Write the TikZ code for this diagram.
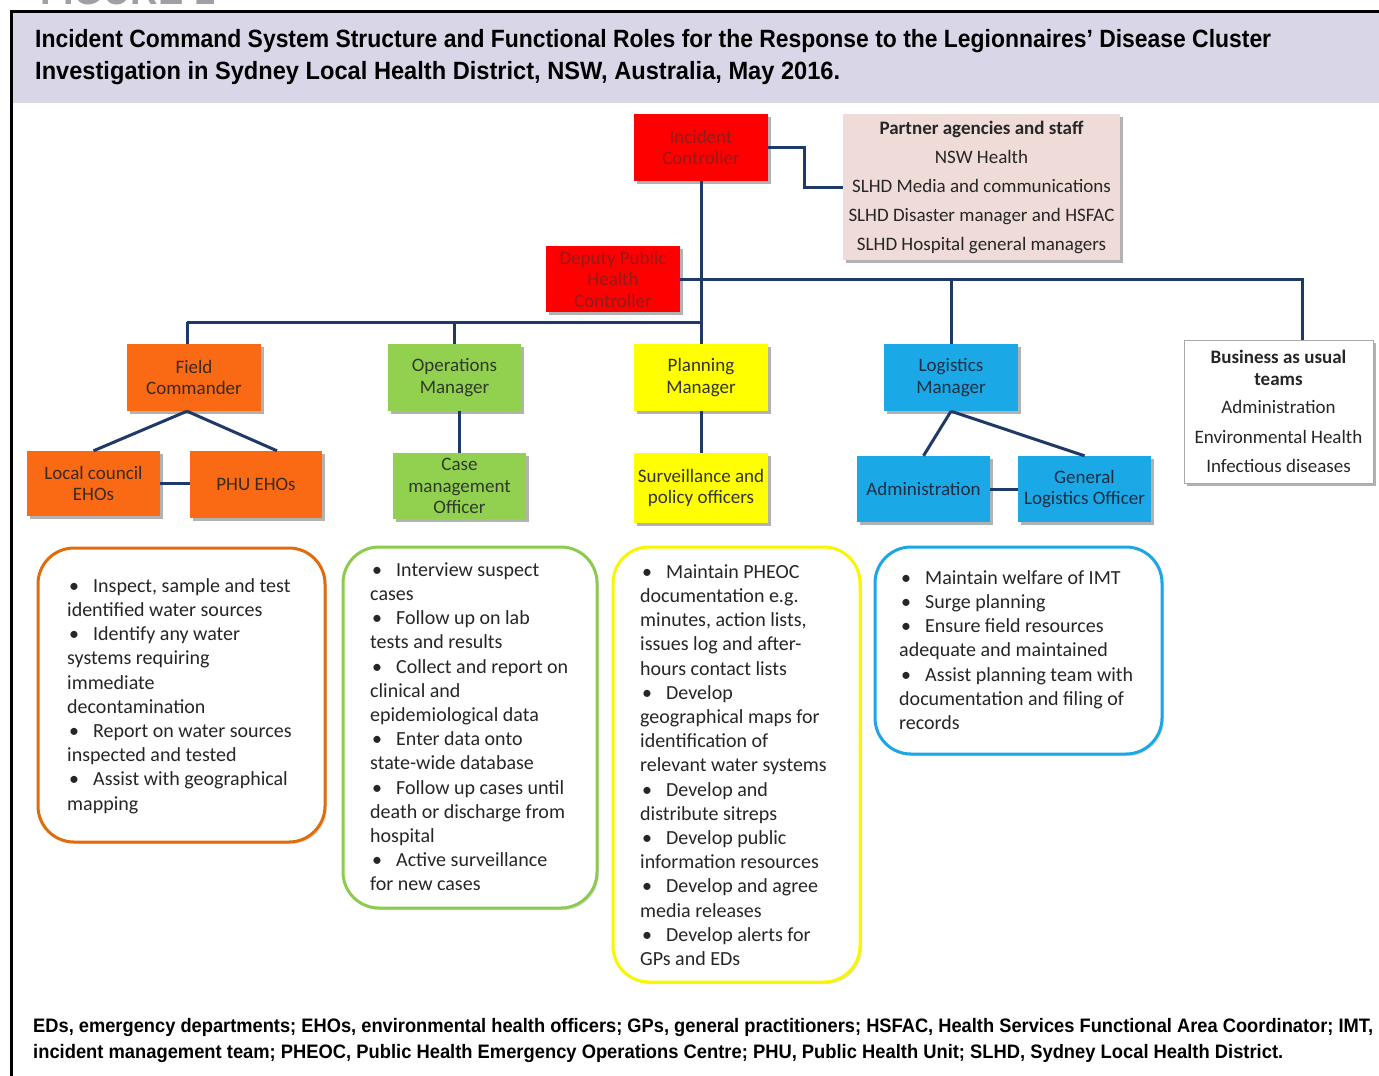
\documentclass[tikz,border=0pt]{standalone}
\usepackage{fontspec}
\usepackage{graphicx}
\setmainfont{Carlito}
\newfontfamily\headfont{Liberation Sans}
\usetikzlibrary{shadows,calc}
\definecolor{band}{HTML}{D9D7E7}
\definecolor{conn}{HTML}{1F3A68}
\definecolor{redf}{HTML}{FF0000}
\definecolor{redt}{HTML}{961A1A}
\definecolor{orf}{HTML}{FA6A14}
\definecolor{ort}{HTML}{3A2A20}
\definecolor{grf}{HTML}{92D050}
\definecolor{grt}{HTML}{2E3A2A}
\definecolor{yef}{HTML}{FFFF00}
\definecolor{yet}{HTML}{333333}
\definecolor{blf}{HTML}{1AA8E6}
\definecolor{blt}{HTML}{1E2E45}
\definecolor{pinkf}{HTML}{EFDBD7}
\definecolor{txtg}{HTML}{262626}
\definecolor{orb}{HTML}{E36C0A}
\definecolor{grb}{HTML}{8CCB4E}
\definecolor{yeb}{HTML}{F7F700}
\definecolor{blb}{HTML}{1CA6E3}
\definecolor{figg}{HTML}{A0A0A0}
\definecolor{baub}{HTML}{AAAAAA}
\newcommand{\bul}{\makebox[26pt][l]{\hspace*{2pt}•}}
\begin{document}
\begin{tikzpicture}[x=1pt,y=-1pt,
  orgbox/.style={draw=none, minimum width=134pt, minimum height=67pt, inner sep=1pt, align=center,
    font=\fontsize{19}{21.5}\selectfont,
    drop shadow={shadow xshift=2.5pt, shadow yshift=-2.5pt, opacity=0.3, fill=black}},
  rbox/.style={draw, line width=3pt, rounded corners=36pt, fill=white,
    drop shadow={shadow xshift=2pt, shadow yshift=-2pt, opacity=0.12, fill=black}},
  btxt/.style={anchor=north west, align=left, inner sep=0pt, font=\fontsize{20}{24.2}\selectfont, text=txtg},
  link/.style={draw=conn, line width=3pt}]
\useasboundingbox (0,0) rectangle (1379,1076);
\fill[white] (0,0) rectangle (1379,1076);
% header band and frame
\fill[band] (13,13) rectangle (1379,103);
\draw[line width=3pt] (11.5,1090) -- (11.5,11.5) -- (1390,11.5);
\begin{scope}
\clip (0,0) rectangle (1379,10);
\node[anchor=base west, inner sep=0pt, text=figg] (fig) at (40,5) {\resizebox{175pt}{\height}{\headfont\bfseries\fontsize{44}{44}\selectfont FIGURE 1}};
\end{scope}
\node[anchor=base west, inner sep=0pt] (t1) at (35,47) {\resizebox{1236pt}{\height}{\headfont\bfseries\fontsize{25}{25}\selectfont Incident Command System Structure and Functional Roles for the Response to the Legionnaires’ Disease Cluster}};
\node[anchor=base west, inner sep=0pt] (t2) at (35,79) {\resizebox{805pt}{\height}{\headfont\bfseries\fontsize{25}{25}\selectfont Investigation in Sydney Local Health District, NSW, Australia, May 2016.}};
% footer
\node[anchor=base west, inner sep=0pt] (f1) at (33,1032) {\resizebox{1340pt}{\height}{\headfont\bfseries\fontsize{19.5}{19.5}\selectfont EDs, emergency departments; EHOs, environmental health officers; GPs, general practitioners; HSFAC, Health Services Functional Area Coordinator; IMT,}};
\node[anchor=base west, inner sep=0pt] (f2) at (33,1058) {\resizebox{1250pt}{\height}{\headfont\bfseries\fontsize{19.5}{19.5}\selectfont incident management team; PHEOC, Public Health Emergency Operations Centre; PHU, Public Health Unit; SLHD, Sydney Local Health District.}};

% org boxes
\node[orgbox, fill=redf, text=redt] (ic) at (701,147.5) {Incident\\Controller};
\node[orgbox, fill=pinkf, text=txtg, minimum width=277pt, minimum height=146pt, font=\fontsize{19}{29}\selectfont] (partner) at (981.5,187) {\textbf{Partner agencies and staff}\\NSW Health\\SLHD Media and communications\\SLHD Disaster manager and HSFAC\\SLHD Hospital general managers};
\node[orgbox, fill=redf, text=redt, minimum height=66pt] (dphc) at (613,279) {Deputy Public\\Health\\Controller};
\node[orgbox, fill=orf, text=ort] (fc) at (194,377.5) {Field\\Commander};
\node[orgbox, fill=grf, text=grt, minimum width=133pt] (ops) at (454.5,377.5) {Operations\\Manager};
\node[orgbox, fill=yef, text=yet] (plan) at (701,377.5) {Planning\\Manager};
\node[orgbox, fill=blf, text=blt] (log) at (951,377.5) {Logistics\\Manager};
\node[orgbox, draw=baub, line width=1pt, fill=white, text=txtg, minimum width=189pt, minimum height=143pt] (bau) at (1278.5,411.5) {\textbf{Business as usual}\\\textbf{teams}\\[7pt]Administration\\[8pt]Environmental Health\\[8pt]Infectious diseases};
\node[orgbox, fill=orf, text=ort, minimum width=133pt, minimum height=65pt] (lce) at (93.5,483.5) {Local council\\EHOs};
\node[orgbox, fill=orf, text=ort, minimum width=132pt] (phu) at (256,484.5) {PHU EHOs};
\node[orgbox, fill=grf, text=grt, minimum width=133pt, minimum height=66pt] (cmo) at (459.5,486) {Case\\management\\Officer};
\node[orgbox, fill=yef, text=yet, minimum height=70pt] (spo) at (701,488) {Surveillance and\\policy officers};
\node[orgbox, fill=blf, text=blt, minimum width=133pt, minimum height=66pt] (adm) at (923.5,489) {Administration};
\node[orgbox, fill=blf, text=blt, minimum width=133pt, minimum height=66pt] (glo) at (1084.5,489) {General\\Logistics Officer};

% connectors
\coordinate (j0) at (187,322);
\coordinate (j1) at (701,322);
\coordinate (j2) at (1302,279);
\draw[link] (ic.east) -- ++(36,0) |- (partner.west);
\draw[link] (ic.south) -- (plan.north);
\draw[link] (j0) -- (j1);
\draw[link] (j0) -- (j0 |- fc.north);
\draw[link] (j0 -| ops.north) -- (ops.north);
\draw[link] (dphc.east) -- (j2) -- (j2 |- bau.north);
\draw[link] (dphc.east -| log.north) -- (log.north);
\draw[link] (fc.south -| j0) -- (lce.north);
\draw[link] (fc.south -| j0) -- ($(phu.north)+(21,0)$);
\draw[link] (lce.east) -- (lce.east -| phu.west);
\draw[link] (ops.south -| cmo.north) -- (cmo.north);
\draw[link] (plan.south) -- (spo.north);
\draw[link] (log.south) -- (adm.north);
\draw[link] (log.south) -- (glo.north);
\draw[link] (adm.east) -- (glo.west);

% role boxes
\node[rbox, draw=orb, minimum width=287pt, minimum height=294pt] (ro) at (181.5,695) {};
\node[rbox, draw=grb, minimum width=254pt, minimum height=361pt] (rg) at (470,727.5) {};
\node[rbox, draw=yeb, minimum width=247pt, minimum height=435pt] (ry) at (736.5,764.5) {};
\node[rbox, draw=blb, minimum width=287pt, minimum height=207pt] (rb) at (1018.5,650.5) {};

\node[btxt] (to) at (67,577) {\rule{0pt}{15pt}\bul Inspect, sample and test\\identified water sources\\\bul Identify any water\\systems requiring\\immediate\\decontamination\\\bul Report on water sources\\inspected and tested\\\bul Assist with geographical\\mapping};
\node[btxt] (tg) at (370,561) {\rule{0pt}{15pt}\bul Interview suspect\\cases\\\bul Follow up on lab\\tests and results\\\bul Collect and report on\\clinical and\\epidemiological data\\\bul Enter data onto\\state-wide database\\\bul Follow up cases until\\death or discharge from\\hospital\\\bul Active surveillance\\for new cases};
\node[btxt] (ty) at (640,563) {\rule{0pt}{15pt}\bul Maintain PHEOC\\documentation e.g.\\minutes, action lists,\\issues log and after-\\hours contact lists\\\bul Develop\\geographical maps for\\identification of\\relevant water systems\\\bul Develop and\\distribute sitreps\\\bul Develop public\\information resources\\\bul Develop and agree\\media releases\\\bul Develop alerts for\\GPs and EDs};
\node[btxt] (tb) at (899,569) {\rule{0pt}{15pt}\bul Maintain welfare of IMT\\\bul Surge planning\\\bul Ensure field resources\\adequate and maintained\\\bul Assist planning team with\\documentation and filing of\\records};
\end{tikzpicture}
\end{document}
